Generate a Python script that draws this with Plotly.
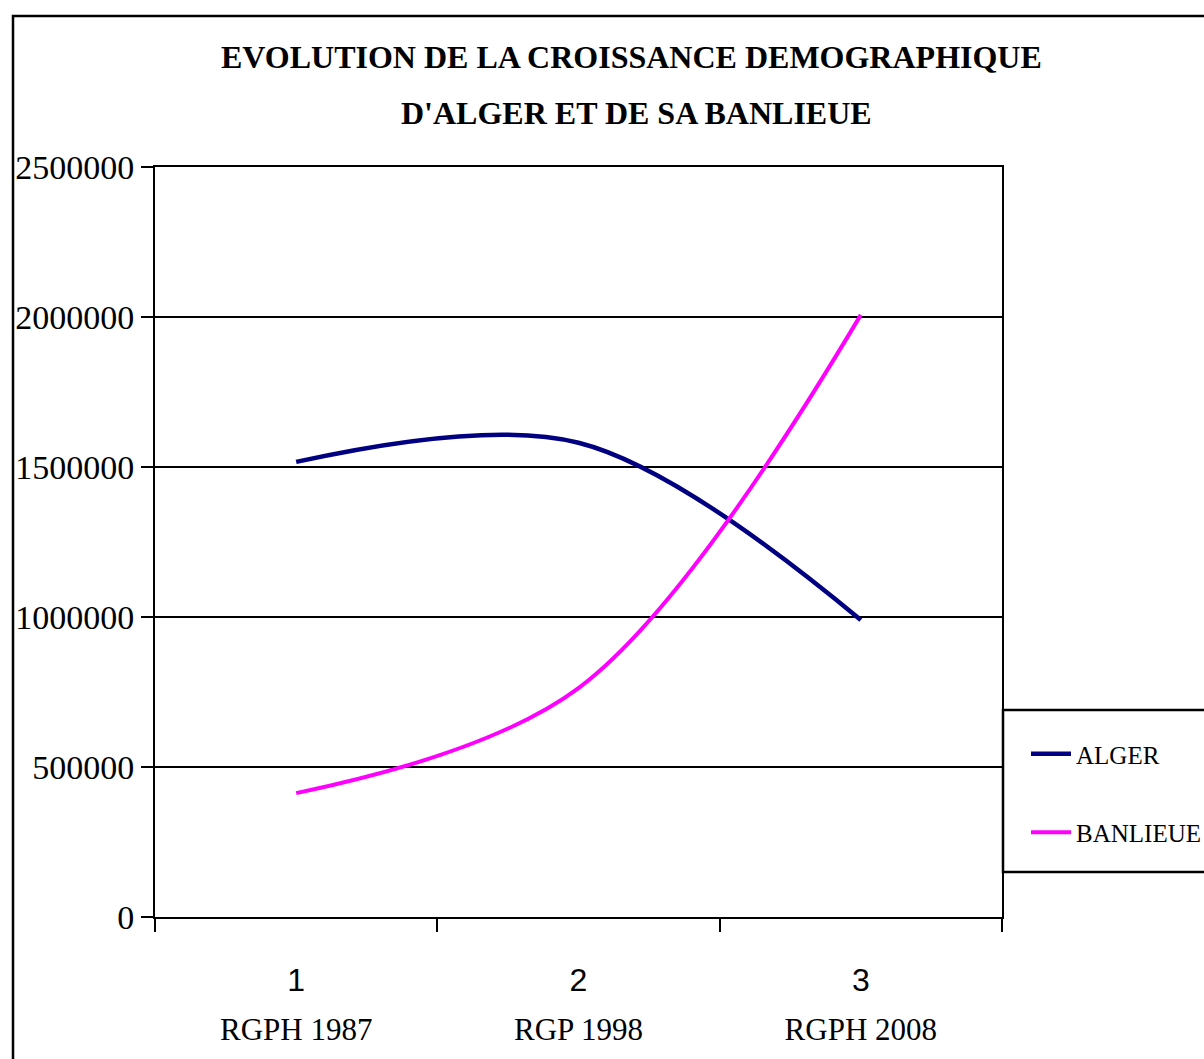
import plotly.graph_objects as go

# Census rounds and population counts
census_rank = ["1", "2", "3"]
census_name = ["RGPH 1987", "RGP 1998", "RGPH 2008"]
alger = [1517000, 1581000, 990000]
banlieue = [413000, 763000, 2007000]

y_ticks = [0, 500000, 1000000, 1500000, 2000000, 2500000]

SERIF = "Liberation Serif, Times New Roman, serif"
SANS = "Liberation Sans, Arial, sans-serif"

W, H = 1204, 1059
L, R, T, B = 155, 1002, 167, 917


def px_x(px):
    return (px - L) / (R - L)


def px_y(py):
    return (B - py) / (B - T)


tick_text = [
    f'<span style="font-family:{SANS};font-size:32px">{n}</span><br>'
    f'<span style="font-size:31px">{name}</span>'
    for n, name in zip(census_rank, census_name)
]

fig = go.Figure()
fig.add_trace(go.Scatter(
    x=census_name, y=alger, name="ALGER", mode="lines",
    line=dict(color="#000080", width=4.5, shape="spline", smoothing=1.0),
    legendgroup="a",
))
fig.add_trace(go.Scatter(
    x=census_name, y=banlieue, name="BANLIEUE", mode="lines",
    line=dict(color="#FF00FF", width=4, shape="spline", smoothing=1.0),
    legendgroup="b",
))

fig.update_layout(
    width=W, height=H,
    margin=dict(l=L, r=W - R, t=T, b=H - B, autoexpand=False),
    paper_bgcolor="white", plot_bgcolor="white",
    font=dict(family=SERIF, color="black"),
    showlegend=True,
    legend=dict(
        x=px_x(1026), xanchor="left",
        y=px_y(731), yanchor="top",
        borderwidth=0, bgcolor="rgba(0,0,0,0)",
        font=dict(family=SERIF, size=25, color="black"),
        tracegroupgap=43, itemwidth=40,
    ),
    xaxis=dict(
        type="category", tickson="boundaries", range=[-0.5, 2.5],
        tickvals=census_name, ticktext=tick_text,
        ticks="outside", ticklen=13, tickwidth=2, tickcolor="black",
        ticklabelstandoff=26,
        showline=True, linecolor="black", linewidth=2, mirror=True,
        showgrid=False, zeroline=False,
        tickfont=dict(family=SERIF, size=38, color="black"),
    ),
    yaxis=dict(
        range=[0, 2500000], tickvals=y_ticks, tickformat="d",
        ticks="outside", ticklen=12, tickwidth=2, tickcolor="black",
        showline=True, linecolor="black", linewidth=2, mirror=True,
        showgrid=True, gridcolor="black", gridwidth=2, zeroline=False,
        tickfont=dict(family=SERIF, size=34, color="black"),
    ),
    shapes=[
        # outer chart frame
        dict(type="rect", xref="paper", yref="paper", layer="below",
             x0=px_x(13), x1=px_x(W + 20), y0=px_y(H + 20), y1=px_y(16),
             line=dict(color="black", width=2.5), fillcolor="rgba(0,0,0,0)"),
        # legend frame
        dict(type="rect", xref="paper", yref="paper", layer="above",
             x0=px_x(1003), x1=px_x(W + 20), y0=px_y(872), y1=px_y(710),
             line=dict(color="black", width=2.5), fillcolor="rgba(0,0,0,0)"),
    ],
    annotations=[
        dict(text="<b>EVOLUTION DE LA CROISSANCE DEMOGRAPHIQUE</b>",
             xref="paper", yref="paper", x=px_x(631), y=px_y(57),
             xanchor="center", yanchor="middle", showarrow=False,
             font=dict(family=SERIF, size=32, color="black")),
        dict(text="<b>D'ALGER ET DE SA BANLIEUE</b>",
             xref="paper", yref="paper", x=px_x(636), y=px_y(113),
             xanchor="center", yanchor="middle", showarrow=False,
             font=dict(family=SERIF, size=32, color="black")),
    ],
)

fig.write_html("out.html")
